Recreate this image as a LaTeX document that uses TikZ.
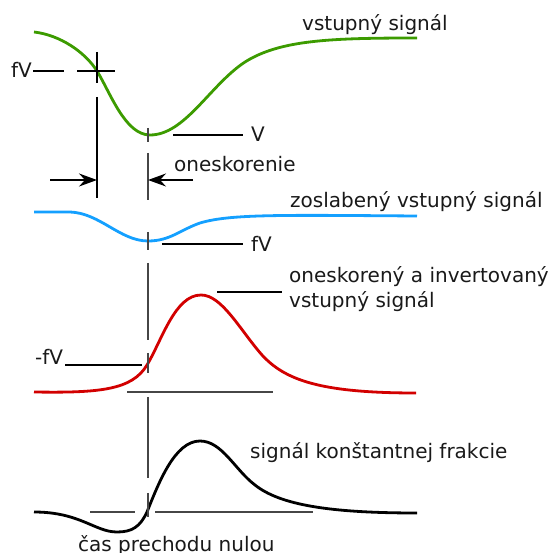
\documentclass[tikz,border=0pt]{standalone}
\usepackage{fontspec}
\usepackage{tikz}
\usepackage{xcolor}
\usetikzlibrary{arrows.meta}
\setmainfont{DejaVu Sans}

\definecolor{sigGreen}{RGB}{60,155,0}
\definecolor{sigBlue}{RGB}{20,160,255}
\definecolor{sigRed}{RGB}{210,0,0}
\definecolor{guideGray}{RGB}{70,70,70}

\begin{document}
\begin{tikzpicture}[x=1pt, y=-1pt,
  signal/.style={line width=2.8pt, line join=round},
  guide/.style={line width=1.2pt, guideGray},
  lbl/.style={inner sep=0pt, anchor=base west, font=\fontsize{20}{25}\selectfont, text=black!90},
  dimarrow/.style={line width=1.2pt, -{Stealth[length=18pt,width=13pt,inset=6pt]}}]
\useasboundingbox (0,0) rectangle (555,553);

\draw[signal, sigGreen] (34,32) .. controls (60,35) and (85,52) .. (97,71)
  .. controls (110,92) and (125,135) .. (150,135)
  .. controls (185,135) and (210,85) .. (245,62)
  .. controls (280,40) and (330,38) .. (417,38);
\draw[signal, sigBlue] (34,212) -- (70,212)
  .. controls (100,213) and (120,241) .. (148,241)
  .. controls (170,241) and (180,230) .. (200,223)
  .. controls (230,214) and (280,215) .. (417,216);
\draw[signal, sigRed] (34,392) .. controls (100,393) and (132,390) .. (147,365)
  .. controls (162,340) and (175,295) .. (201,295)
  .. controls (222,295) and (240,330) .. (262,355)
  .. controls (285,380) and (320,393) .. (416,393);
\draw[signal, black] (34,512) .. controls (80,512) and (95,532) .. (117,532)
  .. controls (132,532) and (140,527) .. (147,512)
  .. controls (159,482) and (175,441) .. (200,441)
  .. controls (222,441) and (235,470) .. (255,485)
  .. controls (280,505) and (330,513) .. (417,513);

\node[lbl] (lIn) at (302,31) {vstupný signál};
\node[lbl] (lFV) at (11,78) {fV};
\node[lbl] (lV) at (251,142) {V};
\node[lbl] (lDelay) at (174,172) {oneskorenie};
\node[lbl] (lAtt) at (290,208) {zoslabený vstupný signál};
\node[lbl] (lFVb) at (251,252) {fV};
\node[lbl, align=left] (lInv) at (289,308) {oneskorený a invertovaný\\vstupný signál};
\node[lbl] (lMinus) at (35,365) {-fV};
\node[lbl] (lCfd) at (250,459) {signál konštantnej frakcie};
\node[lbl] (lZero) at (78,551) {čas prechodu nulou};

\draw[guide, black] (33,71) -- (64,71) (77,71) -- (115,71);
\draw[guide, black] (97,52) -- (97,83) (97,97) -- (97,198);
\draw[guide, black] (173,135) -- (243,135);
\draw[guide, black] (162,244) -- (243,244);
\draw[guide, black] (217,292) -- (282,292);
\draw[guide, black] (65,365) -- (142,365);
\draw[guide] (127,392) -- (273,392);
\draw[guide] (90,512) -- (135,512) (155,512) -- (313,512);
\foreach \ya/\yb in {128/142, 153/200, 232/250, 263/340, 353/373, 397/478, 493/517}
  \draw[guide] (148,\ya) -- (148,\yb);

\draw[dimarrow] (50,180) -- (97,180);
\draw[dimarrow] (193,180) -- (148,180);
\end{tikzpicture}
\end{document}
